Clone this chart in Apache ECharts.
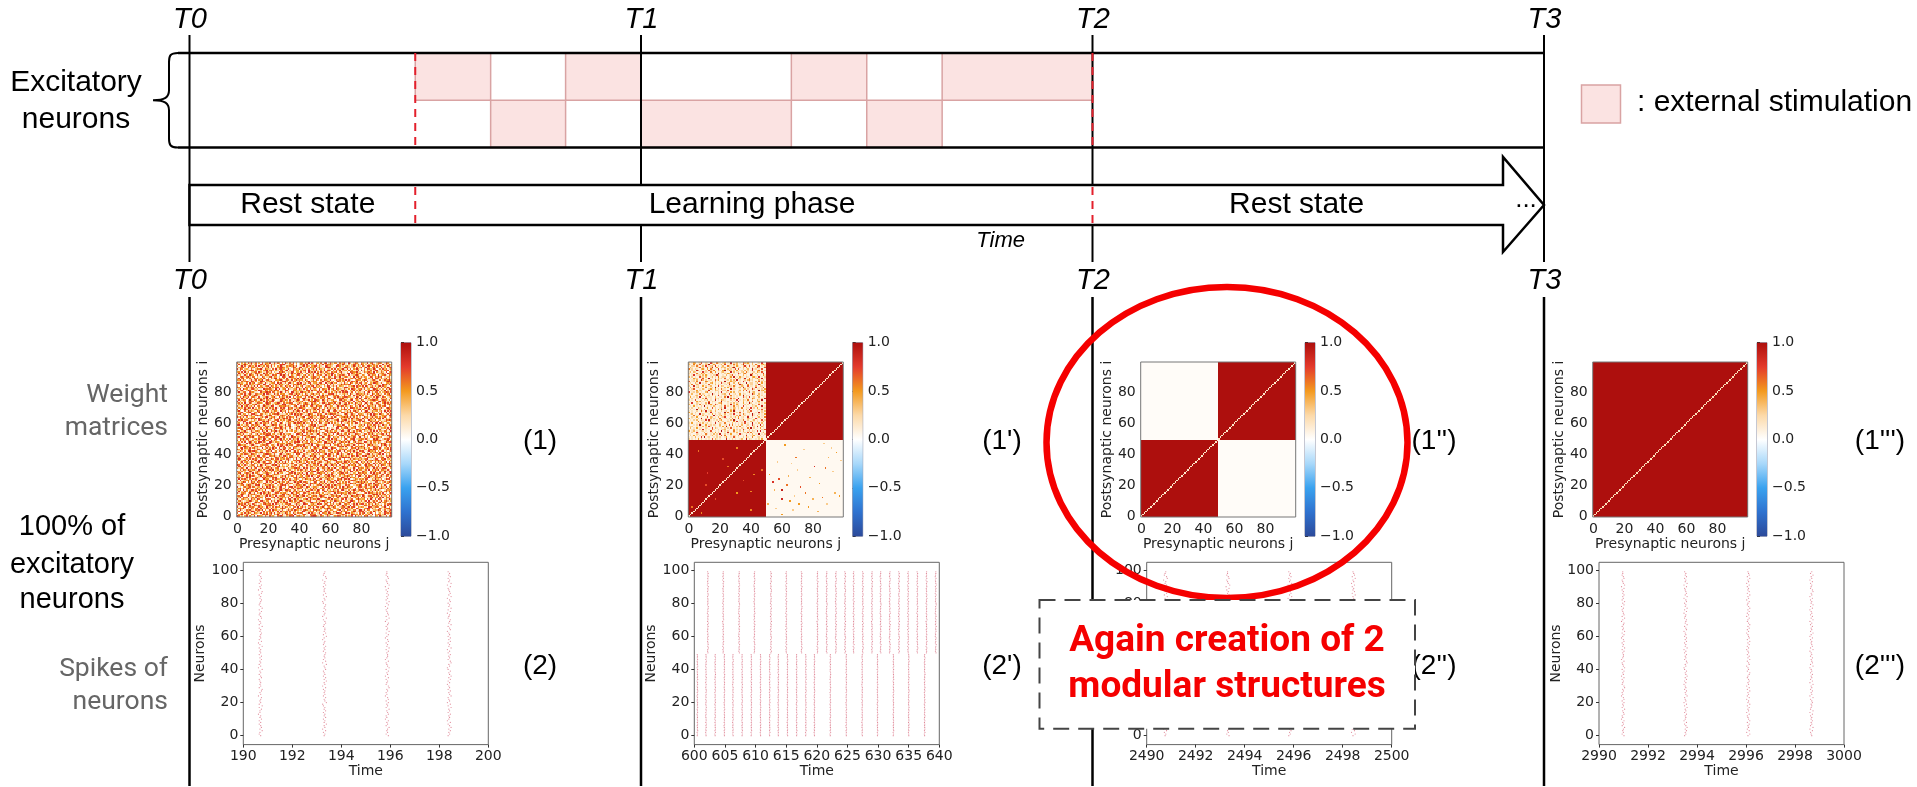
<!DOCTYPE html>
<html><head><meta charset="utf-8">
<style>html,body{margin:0;padding:0;background:#fff}#c{width:1917px;height:787px}</style>
<script src="https://cdn.jsdelivr.net/npm/echarts@6/dist/echarts.min.js"></script>
</head><body><div id="c"></div>
<script>
// ---------- timeline data (time in units of T-intervals, rows: 0 = upper, 1 = lower) ----------
const T_TICKS = [0, 1, 2, 3];
const T_LABELS = ['T0', 'T1', 'T2', 'T3'];
const PHASE_BOUNDARIES = [0.5, 2];
const PHASES = [['Rest state', 0.262], ['Learning phase', 1.246], ['Rest state', 2.452]];
const STIM_UPPER = [[0.5, 0.667], [0.833, 1], [1.333, 1.5], [1.667, 2]];
const STIM_LOWER = [[0.667, 0.833], [1, 1.333], [1.5, 1.667]];
const CMAP = ['#2c4a9a', '#2f72cf', '#3aa2ef', '#a8d8fa', '#ffffff', '#fcd9a8', '#f39a1f', '#e33a2c', '#ad0f0d'];

// ---------- weight matrices: panel (1), digit d is a weight level, first row is neuron 99 ----------
const W1_ROWS = [
"7305162849337150826649128375061942738150366274918305527169038426617358209414862075339168204775139620",
"2814695037146028739551736204889312576040375829164428063915767420185396205148737296041538624610927385",
"6039271584528194360772815063942164759380236917405588263109745301986240573149626307418952637084152963",
"1457830926673501824491620357886254039711790346285560472318996143705228964135072581493606827419350268",
"9286045317204769318543071926855138207464926351704829175360342718064593281706495230618743950162847136",
"3170852469815324067926841530771690428356053781942447306291885062739145507362148092615370489126375804",
"5628193704467095132853704218696124387055281360947390628417530746815922140876593302746851906327418058",
"0943716258328652094716430597821705394628946017253815904372664981052733179085264740319576821245730966",
"7351284096503917428662185703949427063158730581624903647128352916047586208134795116402837560924683175",
"2068537941760420851337926514088513976240419627035874360592176208439135752409168373650286174958032471",
"4816905273195736284050638917426082154739287350416962841065373749026581103574926840261539078526349172",
"6592740138248065913783210657941376280594656194023718507286439102857364928310476505972136842170385694",
"1307468529735129860446928150378950437612813406925765014923871460396258075386491262708143569301247986",
"8745216093680257419313567094822617935048490362781556278109346935702418340961572781462053986327105648",
"3296058174524683197007142839563048126759762851094336925470817261034958658710429193640872135420968371",
"5071483926391906425782850631741953708264058124637917463052981372816540204369185638095147262793854106",
"9613027548716075832429164780355281460397327095461884527031696040752138973246085115836279404718263950",
"2480956137853412096767530928146709324581941836072453081765290581964327316097425682714503986240517398",
"7158304962046297318515849670232984017653653207819466291538040376152894720548163931062785749816390427",
"4923671085632108457968076153941725098364189563724002847169350614937286891370625423805916277150469738",
"0367182594217645390884219370656013782495725084136936470512187892503146360941287564728309516834072691",
"8640295371498530761232751468097461235908037469281550183926744275860319216708354926143078195692403576",
"3172954806763081245951469208375283907146560281749314926753800157394268875423096182065341729731860245",
"6509428137042675183928053741699136045827418962305772316480595028147693340561872940792615348206437119",
"1824760395386129540763495012874750821369602734915088641952733561208947512790364185023468976314875260",
"9251370468705463192816780234956041629375358120476994730561820396514287265418037629817043540792683416",
"4736091285123876405976124598307365870124841596207363052894176648039125708361952470394276118520694837",
"0582647931659240173884051763298912475608230678419554621307895172846039945013728660728159343861270594",
"7319058246280571396443980127656846302791174925068329567048136501394872632850741928016745390472681053",
"2645183970914063825717361920848209571364986530214776184052937364270518150987362440692817573148206965",
"8071496325367542918063284701595138640927205817463692951860374249031758716205348916524730897361042584",
"5930172846421960573881537620944706128359739048261545082631790178625403362817945070398126456047192838",
"1468205793056381249672945183070819475362612746053898370942165435190876294760582313685729401528039174",
"3792650418894107625305168794232360581947485213976020746128359867342106951384207564027391865196403728",
"6015389247237968410549702351686429310758370185926461839570413092785613580476291747216083953024657189",
"9483716025560214738913658209474073856192246901587335127684902718403569693827150401956248376162583047",
"2176043859748395106206927148359582716043815406927160438925377961250834527094386319348172605780916243",
"0859367214163087452394215780636147920583702654391818065273941325790468914063257872601954380451238697",
"7342981056542610793880376194152058469317296473058161395407826604183972438259610719720183645906357214",
"4601728395019538267471824603950327615948863925407126087135492756240813375062981402546739189187403652",
"8925137406736841095202596718433918700264157240368590412368097183465297006041312573908461862730945186",
"1350864927275093418694231507861643920127938602574981379652401460397825824317906525018736490963154207",
"5786024193961427053812037864953810610394705318264606582147930321980546793265801441076952380725463819",
"3049217685480136927555718204691520370283064719285127039584610972835160148620397537941682503682107394",
"7614593028326750841901846937251170460562138704696849351027837405612983259037164860534271918054376129",
"0298476315873152096264309215780320000714560928371536182740946859270314735869240173106857342917056483",
"9563812047104926375878056143927245613089749106357224960387153180493726608132975402861749305347829160",
"2147065983645380217996741820535718294063256894701315087246394621507893492065718336904152878103642975",
"6830294175920167483530682795148403196725308125649872641950384074361528157348602911725068436946012387",
"4175938620356284197147105836926051827449037193265068395214780936821405820679134576384201959420375861",
"8092651734713450892662937401853729063518542708136449271830567315946028164529307882106453797683215904",
"3527180496265098374109842653071360452879918346075220675189343708215964739105826441983270652641039578",
"6740319285408761523997213084566158930724203567918365412097686294058317025463187986024371451739682043",
"1985462037932104675840563192783492671058765812439006853471219016483725587239406132706958343108496275",
"7230896514156947208373068125948025134796380946152771920685343541078692912380574696407132855827139064",
"4069175382683520914726294708137813609542217385960486431859702967204531350176829454923601786293054718",
"9518243670042873156169175034829406287135736409218565179240383820916475702843196312650784976071435829",
"2374061895896315402784902617353591703826041862537939084571266405378129165739240868213956470526814037",
"6802953174217649830553186720491730246958385017462181947563025926481703640815397237904162586194073562",
"0156387429754032168986427105933268514097916734205845270369187350692841279361084650148927324782905163",
"8493120756362980574107659328418940673215057821396492135740686183704952524086197318692435706035217489",
"3725619084106478253970413862595061874392638295041776082915343420716598869152430741308659271546803927",
"5981046372847315609223960781546278305191170463825934851670298795248106012837546463579120388207691453",
"1634782905259086134787125643920439216758842576031096324178605368902417594361208723081569476952840316",
"7048156239613792485025604938173916050382961408527360487213954102865739837254691084629350172746159083",
"4263907518085241367998317052648751386024235790614881962045737426190385560817249316074812935083462697",
"9715284036740619528321486937052036942781574018362563708159423954807126128365904720593674181629750384",
"2890631745392857410676024189355269178403916405278137245680913071642598493016785242187539604816027359",
"6347519028158024936784931670224017355896720938164540812763591639205487761429308576058412937243896105",
"0172863954673195082438590462719843620517386274095116940382756820573419245807193662371906485917642830",
"8536240197204861739501726539843568197402051463827992615708344093518627370982546118642073591065394278",
"3791058642916730245864307192566204783915748129065303896471521752046983682315409747560182936481270359",
"5264917380430586712992048653171379520648260719345856147029383921607458014873692560934218757315806942",
"1408736295862149053767951320484916375082357046819230683154792684025137596240718933170864295049328617",
"7653029481015732869434286910752845106793964825301718904527366172340895381956427020658931476783214095",
"2917584063748320195661073854299360721584105396482770258134963541076928849103752646287015394526039781",
"6081345729236097514849625713082713948560874021365939561280476208394517124587630393170426859654821037",
"4325970618571864302915480269376058213947692785140386037491526873915062718203469585946031287130472596",
"8759103246946052178332714905681483760259306148297575293618044261087354603975812497152680934862405713",
"0246815973318790426558361042797925104386752960381414769253880739546121847103265960382741597516283049",
"9130574682762451830947085326911604892735478219603665301928473852617094296450137883571264908027439165",
"3682417950105938264679240517836317059248860345172948126570391408926375753812906414085672391269540738",
"5470926138847263519001685327942985613704219071468352960841735164270893306149725887236051494831027566",
"1924385067539801674372591468030462817593765428910316840297156795384102683906145276914738205047269381",
"8316750492270649185395013872646730195286401873526948571602343019275864529748630110582967437362814059",
"2059631847684127053946276510398159428670938501762431096375825843710926714632098558401326979271680534",
"6748102935105873426918340925767023615489247916305868259741032674958013381296574409613782505927346180",
"3491867025738246509120569183474638091275854130796225307468199160382547962514738074821369256083917642",
"9205743618462971305787014236951507824936130569284764982013573926541780813470269545607293181874036295",
"1683024597315608942650837195428241960753796324581017346985206419753802542896107362580914737039168425",
"7426159830049571286382415970636790143528603841279556281073949082316475168905237414329761850691574032",
"0957382641863024179567190843252675810394421986035732968157406371549206745038291688250736194513062789",
"5318746092296485013778654209134029567183917230846465130482976805172394612907354102873619546347081926",
"8240691375741385620934071856293851406729058361472917825940362496013578359178206465120983477603492051",
"2675930418506928143762843510697416259037683041925830416275987157340862974361085201569827340284156793",
"6193027584317584906128095634271038472965241796350869573014826520369147085426713993817602454960271358",
"4820516739962740381547361280945572813604019832465706249158373185702946631059724878240361951436097285",
"7036184952185439062706928157343961508427576013928441380765296243897510958264130727915483060351286749",
"1569327408643102785935706493182284670931315872096670248135949721034586403197562816053729184862490317",
"9724058163280965417318452076962153879046743602158996317502841036587241725480936350869142075194327068"];
const W1_PALE_SPOTS = [[60,58],[61,58],[59,59],[60,59],[61,59],[60,60],[58,58],[57,57],[62,60],[45,43],[44,42],[43,41],[42,40],[41,39],[46,44],[30,28],[31,29],[32,30],[33,32],[34,33],[29,27],[50,49],[51,50],[52,51]];

// panel (1'): upper-left block, 50 x 50, first row is neuron 99, column 0 on the left
const W2_UPPER_LEFT = [
"20143012600210731052102401180213010632410300120710",
"31050216010329014200130700120513002801120305100342",
"10220510130701230802013005210204100371060120470102",
"03100126020160280140032300215910120304010201730016",
"51202100341040520107010203120160600201300812010600",
"10210830100206215003104901420204012030201700350102",
"13032001071210510401023100080301202305100120420610",
"20100510423001130109010214300100720351002602000170",
"10170112030410102283001030126010200301009300201041",
"30201006120300130205012200140801041102100341070102",
"01042200160019010103120600210030320180050202410801",
"10120300730201200614000112030308010120351200030120",
"60120501000541020300120900142230010710020103060302",
"12003108010200340201071102500300510109012201300401",
"10501320011006010302100120810020183000402201093001",
"20080120040201300107032001220510013200601103002201",
"03010230100500120910010304010200230810120207010160",
"10260001031002410402051100090210010230200720110204",
"01100402100108010321002206000100130507020100090341",
"70120320100350100102080021040300210100160230010103",
"10300105021001091002012300600120040210010830030100",
"11002300604012030107010220050101030902100100420201",
"04010208000201100300120509020101000612070120030011",
"10200120030710100412001100060320900102100530010208",
"20106000102130100801042100020107010310500200310900",
"01000413010005021100090102001020800301120600240100",
"10700210100308010102350001020302100401092001020103",
"30010205010202410720030101080204100120200310060100",
"01040100209010103100120602010501200701000213000801",
"10200031100140060200130800010320205001107020400112",
"02010901203001100204071001030510100203080100120600",
"10100200510801300300020120040910010300216000100203",
"40102000100310700102100905010202060100230001080210",
"01301008021001040201200300120700020510010910020104",
"10050120030210009010240201010103060120200810300110",
"00210400100060320103012700020130401200800200130105",
"30101020900210302100500120204010601100321007102010",
"01020300210708101020240001030910011500200130100602",
"10100050012003100206012002100407011080003110200130",
"20400102030120100800210500103010102060100901030300",
"10010209100401202100300120605010203001200710108020",
"12200101030206100100204090010103050102010120800310",
"03010401100210070310010202060101002100509020104010",
"10120002080101051002012300100402020710030101000216",
"40130100120100600101090202000501020300120210708010",
"10200710003010120402010108010203000120605010100130",
"11000210100510103020800201040001071002010301090102",
"02040101020200130120060500010210300108001240102010",
"10103010709012001020200140010610100203100500120100",
"20101040200101060310100080102010013009021001020400"];
const W2_LOWER_RIGHT_SPARSE = [[62,46,.5],[69,38,.6],[81,32,.8],[88,31,.6],[54,22,.8],[60,17,.9],[55,17,.4],[65,10,.5],[60,11,.85],[68,13,.3],
[72,19,.7],[78,25,.4],[84,21,.5],[90,38,.4],[95,41,.5],[92,44,.3],[74,43,.3],[57,35,.3],[64,26,.4],[52,27,.5],[70,30,.3],[86,12,.6],[94,15,.4],
[77,6,.5],[83,3,.4],[60,1,.5],[51,8,.4],[56,5,.3],[67,4,.3],[89,8,.3],[97,13,.5],[75,15,.6],[80,11,.4],[71,8,.5],[63,20,.6],[58,24,.7],[93,29,.3],[98,36,.3],[87,47,.3],[66,34,.3]];
const W2_LOWER_LEFT_SPARSE = [[31,44,.55],[6,42,.6],[25,32,.6],[42,27,.55],[31,15,.5],[47,30,.6],[40,16,.55],[11,20,.7],[17,11,.7],[8,2,.55],[40,4,.55],[2,6,.6],[22,37,.7],[35,23,.7],[12,28,.75]];

// ---------- spike rasters: one digit per neuron, spike offset from the burst time ----------
const JITTER = [
"5347465353645244637354562546735454365354725354646354537426354564537354265346375345645367254635465346",
"4536254745364536453275463545362547463543654726354563546345247364553465372453645632547364453645276345",
"6354573546243654735463652435476345362546375436245546374536524637453562473654352647354645362754365344",
"3546475362454635473625437546354253647546325476354635274536463542653745634526374536527465436274536453",
"4726354637543625463745263547362546534673542653746354253647365425364753462536475346254736453625473654",
"5436273546453627345465372546354726354635427365463542736545362473546352746354263745362547634536254735"];
const BURSTS_A = [190.68, 193.3, 195.86, 198.39];
const BURSTS_B_UPPER = [602.2,604.7,607.3,609.8,612.5,615,617.5,620.1,621.6,623.1,624.6,626,627.5,629,630.4,631.9,633.4,634.9,636.4,637.9,639.4];
const BURSTS_B_LOWER = [600.5,601.9,603.4,604.9,606.3,607.8,609.3,610.8,612.3,613.7,615.2,616.7,618.2,619.6,622.2,624.8,627.4,629.9,632.5,635,637.6];
const BURSTS_C = [2490.75, 2493.3, 2495.83, 2498.42];
const BURSTS_D = [2990.97, 2993.52, 2996.08, 2998.66];
const RASTER_Y_TICKS = [0, 20, 40, 60, 80, 100];

// ---------- layout ----------
const HEAT_X = [236.7, 688.3, 1140.7, 1592.7];
const BAR_X = [401, 852.7, 1305, 1757];
const RASTER_X = [243.3, 694.3, 1146.7, 1599];
const RASTER_RANGE = [[190,200,2],[600,640,5],[2490,2500,2],[2990,3000,2]];
const DFONT = '"DejaVu Sans"';
const HFONT = '"Liberation Sans"';
const RFONT = 'Roboto';

// ---------- matrix assembly ----------
function blockMatrix(blocks, diag) {
  const m = [];
  for (let i = 0; i < 100; i++) { m.push(new Array(100).fill(0.02)); }
  blocks.forEach(b => { for (let y = b[2]; y < b[3]; y++) for (let x = b[0]; x < b[1]; x++) m[y][x] = b[4]; });
  if (diag != null) for (let i = 0; i < 100; i++) m[i][i] = diag;
  return m;
}
function toCells(m) { const out = []; m.forEach((r, y) => r.forEach((v, x) => out.push([x, y, v]))); return out; }
const M1 = blockMatrix([]);
W1_ROWS.forEach((row, r) => { for (let x = 0; x < 100; x++) M1[99 - r][x] = (row.charCodeAt(x % row.length) - 48) / 9 * 0.82; });
W1_PALE_SPOTS.forEach(p => { M1[p[1]][p[0]] = 0.06; });
const M2 = blockMatrix([[0,50,0,50,1],[50,100,50,100,1],[50,100,0,50,0.04]], 0.15);
W2_UPPER_LEFT.forEach((row, r) => { for (let x = 0; x < 50; x++) M2[99 - r][x] = (row.charCodeAt(x % row.length) - 48) / 9 * 0.9 + 0.08; });
W2_LOWER_RIGHT_SPARSE.concat(W2_LOWER_LEFT_SPARSE).forEach(p => { M2[p[1]][p[0]] = p[2]; });
const M3 = blockMatrix([[0,50,0,50,1],[50,100,50,100,1]], 0.15);
const M4 = blockMatrix([[0,100,0,100,1]], 0.2);
const MATS = [M1, M2, M3, M4];

function burst(time, jit, first, scale) {
  const pts = [];
  for (let k = 0; k < jit.length && first + k < 100; k++) pts.push([time + (jit.charCodeAt(k) - 52) * scale, first + k]);
  return pts;
}
const RASTERS = [
  BURSTS_A.flatMap((t, i) => burst(t, JITTER[i], 0, 0.03)),
  BURSTS_B_UPPER.flatMap((t, i) => burst(t, JITTER[i % 6].slice(0, 50), 50, 0.03))
    .concat(BURSTS_B_LOWER.flatMap((t, i) => burst(t, JITTER[(i + 3) % 6].slice(50), 0, 0.02))),
  BURSTS_C.flatMap((t, i) => burst(t, JITTER[i + 1], 0, 0.03)),
  BURSTS_D.flatMap((t, i) => burst(t, JITTER[i + 2], 0, 0.025))
];
const IDX = Array.from({ length: 100 }, (_, i) => String(i));

// ---------- option ----------
const grids = [], xAxes = [], yAxes = [], series = [];
const lblStyle = { color: '#222', fontFamily: DFONT, fontSize: 14 };
const nameStyle = { fontFamily: DFONT, fontSize: 14, color: '#222' };
function every20(i) { return i % 20 === 0; }

// timeline grid: index 0
grids.push({ left: 189.5, top: 53, width: 1354.5, height: 94.5 });
xAxes.push({ gridIndex: 0, type: 'value', min: 0, max: 3, show: false });
yAxes.push({ gridIndex: 0, type: 'value', min: 0, max: 2, inverse: true, show: false });

const Y = { t1a: 35, t1b: 262, t2a: 297, t2b: 786, arrowTop: 185, arrowBot: 225, headTop: 157, headBot: 252, arrowMid: 205, lblA: 20, lblB: 281 };
const BLACK = '#000';
function lineShape(x1, y1, x2, y2, style, z2) { return { type: 'line', shape: { x1, y1, x2, y2 }, style, z2: z2 || 0 }; }

// stimulation blocks
const stimData = STIM_UPPER.map(s => [s[0], 0, s[1], 1]).concat(STIM_LOWER.map(s => [s[0], 1, s[1], 2]));
series.push({ type: 'custom', xAxisIndex: 0, yAxisIndex: 0, z: 3, silent: true, data: stimData,
  renderItem(p, api) {
    const a = api.coord([api.value(0), api.value(1)]), b = api.coord([api.value(2), api.value(3)]);
    return { type: 'rect', shape: { x: a[0], y: a[1], width: b[0] - a[0], height: b[1] - a[1] }, style: { fill: '#fbe3e2', stroke: '#d9a3a3', lineWidth: 1.5 } };
  } });
// vertical lines T0..T3 + labels
series.push({ type: 'custom', xAxisIndex: 0, yAxisIndex: 0, z: 4, silent: true, data: T_TICKS.map(t => [t, 0]),
  renderItem(p, api) {
    const i = p.dataIndex, x = api.coord([api.value(0), 0])[0];
    const font = 'italic 29px ' + HFONT;
    const lab = (y) => ({ type: 'text', style: { text: T_LABELS[i], x: x + 0.5, y, font, fill: BLACK, align: 'center', verticalAlign: 'middle', textAlign: 'center', textVerticalAlign: 'middle' } });
    return { type: 'group', children: [
      lineShape(x, Y.t1a, x, Y.t1b, { stroke: BLACK, lineWidth: 2 }),
      lineShape(x, Y.t2a, x, Y.t2b, { stroke: BLACK, lineWidth: 2.5 }),
      lab(Y.lblA), lab(Y.lblB)] };
  } });
// row borders + brace
series.push({ type: 'custom', xAxisIndex: 0, yAxisIndex: 0, z: 5, silent: true, data: [[0, 0]],
  renderItem(p, api) {
    const top = api.coord([0, 0]), bot = api.coord([3, 2]);
    const st = { stroke: '#000', lineWidth: 2.5, fill: 'none' };
    const L = top[0] - 11.5, yT = top[1], yB = bot[1], yM = (yT + yB) / 2;
    const path = `M${L} ${yT}C${L-8} ${yT} ${L-9} ${yT+3} ${L-9} ${yT+9}L${L-9} ${yM-10}C${L-9} ${yM-3} ${L-13} ${yM} ${L-25} ${yM}C${L-13} ${yM} ${L-9} ${yM+3} ${L-9} ${yM+10}L${L-9} ${yB-9}C${L-9} ${yB-3} ${L-8} ${yB} ${L} ${yB}`;
    return { type: 'group', children: [
      lineShape(L, yT, bot[0], yT, st), lineShape(L, yB, bot[0], yB, st),
      { type: 'path', shape: { pathData: path }, style: { stroke: '#000', lineWidth: 2, fill: 'none' } }] };
  } });
// arrow
series.push({ type: 'custom', xAxisIndex: 0, yAxisIndex: 0, z: 6, silent: true, data: [[0, 3]],
  renderItem(p, api) {
    const a = api.coord([api.value(0), 0])[0], b = api.coord([api.value(1), 0])[0], n = b - 41;
    return { type: 'polygon', shape: { points: [[a, Y.arrowTop], [n, Y.arrowTop], [n, Y.headTop], [b, Y.arrowMid], [n, Y.headBot], [n, Y.arrowBot], [a, Y.arrowBot]] },
      style: { fill: '#fff', stroke: '#000', lineWidth: 2.5 } };
  } });
// red phase boundaries
series.push({ type: 'custom', xAxisIndex: 0, yAxisIndex: 0, z: 7, silent: true, data: PHASE_BOUNDARIES.map(t => [t, 0]),
  renderItem(p, api) {
    const x = api.coord([api.value(0), 0])[0], yT = api.coord([0, 0])[1], yB = api.coord([0, 2])[1];
    const st = { stroke: '#e3202c', lineWidth: 2, lineDash: [8, 6] };
    return { type: 'group', children: [lineShape(x, yT, x, yB, st), lineShape(x, Y.arrowTop + 2, x, Y.arrowBot - 2, st)] };
  } });
// phase names
series.push({ type: 'custom', xAxisIndex: 0, yAxisIndex: 0, z: 8, silent: true, data: PHASES.map(p => [p[1], 0]),
  renderItem(p, api) {
    const x = api.coord([api.value(0), 0])[0];
    return { type: 'text', style: { text: PHASES[p.dataIndex][0], x, y: Y.arrowMid, font: '30px ' + HFONT, fill: '#000', align: 'center', verticalAlign: 'middle', textAlign: 'center', textVerticalAlign: 'middle' } };
  } });

// heatmaps: every cell is placed on the category bands and snapped to whole pixels, coloured by the visual map
const heatSeriesIdx = [];
MATS.forEach((m, i) => {
  const g = grids.length;
  grids.push({ left: HEAT_X[i], top: 362, width: 155, height: 155, show: true, borderColor: '#777', borderWidth: 1, z: 3 });
  xAxes.push({ gridIndex: g, type: 'category', data: IDX, position: 'bottom', name: 'Presynaptic neurons j', nameLocation: 'middle', nameGap: 20,
    nameTextStyle: nameStyle,
    axisLine: { show: false }, axisTick: { alignWithLabel: true, interval: every20, length: 3, lineStyle: { color: '#333' } },
    axisLabel: { interval: every20, margin: 5, ...lblStyle }, splitLine: { show: false } });
  yAxes.push({ gridIndex: g, type: 'category', data: IDX, position: 'left', name: 'Postsynaptic neurons i', nameLocation: 'middle', nameGap: 26,
    nameTextStyle: nameStyle,
    axisLine: { show: false }, axisTick: { alignWithLabel: true, interval: every20, length: 3, lineStyle: { color: '#333' } },
    axisLabel: { interval: every20, margin: 5, ...lblStyle }, splitLine: { show: false } });
  heatSeriesIdx.push(series.length);
  series.push({ type: 'custom', xAxisIndex: g, yAxisIndex: g, data: toCells(m), progressive: 0, silent: true, z: 2, encode: { x: 0, y: 1 },
    renderItem(p, api) {
      const s = api.size([1, 1]), o = api.coord([0, 0]);
      const ix = api.value(0), iy = api.value(1);
      const left = o[0] - s[0] / 2, bottom = o[1] + s[1] / 2;
      const x0 = Math.round(left + ix * s[0]), x1 = Math.round(left + (ix + 1) * s[0]);
      const y1 = Math.round(bottom - iy * s[1]), y0 = Math.round(bottom - (iy + 1) * s[1]);
      return { type: 'rect', shape: { x: x0, y: y0, width: x1 - x0, height: y1 - y0 }, style: { fill: api.visual('color') } };
    } });
});
// colorbars
BAR_X.forEach(x => {
  const g = grids.length;
  grids.push({ left: x, top: 342.7, width: 10, height: 193.5, show: true, borderColor: '#8a8fa5', borderWidth: 1 });
  xAxes.push({ gridIndex: g, type: 'value', min: 0, max: 1, show: false });
  yAxes.push({ gridIndex: g, type: 'value', min: -1, max: 1, interval: 0.5, position: 'right', axisLine: { show: false },
    axisTick: { show: true, length: 3, lineStyle: { color: '#333' } }, splitLine: { show: false },
    axisLabel: { margin: 5, formatter: v => v.toFixed(1).replace('-', '\u2212'), ...lblStyle } });
  series.push({ type: 'custom', xAxisIndex: g, yAxisIndex: g, silent: true, data: [[0, -1, 1, 1]],
    renderItem(p, api) {
      const a = api.coord([api.value(0), api.value(3)]), b = api.coord([api.value(2), api.value(1)]);
      const stops = CMAP.map((c, k) => ({ offset: 1 - k / (CMAP.length - 1), color: c })).reverse();
      return { type: 'rect', shape: { x: a[0], y: a[1], width: b[0] - a[0], height: b[1] - a[1] }, style: { fill: new echarts.graphic.LinearGradient(0, 0, 0, 1, stops) } };
    } });
});
// rasters
RASTERS.forEach((pts, i) => {
  const g = grids.length, r = RASTER_RANGE[i];
  grids.push({ left: RASTER_X[i], top: 562.3, width: 245, height: 182.3, show: true, borderColor: '#666', borderWidth: 1 });
  xAxes.push({ gridIndex: g, type: 'value', min: r[0], max: r[1], interval: r[2], name: 'Time', nameLocation: 'middle', nameGap: 20,
    nameTextStyle: nameStyle,
    axisLine: { show: false, onZero: false }, axisTick: { show: true, length: 3, lineStyle: { color: '#333' } }, splitLine: { show: false },
    axisLabel: { margin: 5, hideOverlap: false, showMinLabel: true, showMaxLabel: true, formatter: v => String(v), ...lblStyle } });
  yAxes.push({ gridIndex: g, type: 'value', min: -5.4, max: 104.7, name: 'Neurons', nameLocation: 'middle', nameGap: 33,
    nameTextStyle: nameStyle,
    axisLine: { show: false, onZero: false }, splitLine: { show: false },
    axisTick: { show: true, length: 3, customValues: RASTER_Y_TICKS, lineStyle: { color: '#333' } },
    axisLabel: { margin: 5, customValues: RASTER_Y_TICKS, ...lblStyle } });
  series.push({ type: 'scatter', xAxisIndex: g, yAxisIndex: g, data: pts, symbol: 'circle', symbolSize: 1.2, silent: true, large: false, progressive: 0,
    itemStyle: { color: 'rgba(195,30,60,0.65)' } });
});

function txt(text, x, y, size, opt) {
  opt = opt || {};
  return { type: 'text', z: opt.z || 20, style: { text, x, y, font: (opt.style ? opt.style + ' ' : '') + size + 'px ' + (opt.family || HFONT), fill: opt.fill || '#000',
    align: opt.align || 'center', verticalAlign: 'middle', textAlign: opt.align || 'center', textVerticalAlign: 'middle' } };
}
const graphics = [
  txt('Excitatory', 76, 83, 30), txt('neurons', 76, 120, 30),
  txt('...', 1526, 200, 26),
  txt('Time', 1000.6, 241, 22, { style: 'italic' }),
  { type: 'rect', z: 20, shape: { x: 1581.5, y: 85, width: 39, height: 38 }, style: { fill: '#fbe3e2', stroke: '#d9a3a3', lineWidth: 1.5 } },
  txt(': external stimulation', 1637, 103, 30, { align: 'left' }),
  txt('Weight', 168, 395, 26.5, { align: 'right', family: RFONT, fill: '#666' }),
  txt('matrices', 168, 428, 26.5, { align: 'right', family: RFONT, fill: '#666' }),
  txt('Spikes of', 168, 669, 26.5, { align: 'right', family: RFONT, fill: '#666' }),
  txt('neurons', 168, 702, 26.5, { align: 'right', family: RFONT, fill: '#666' }),
  txt('100% of', 72, 527, 29), txt('excitatory', 72, 565, 29), txt('neurons', 72, 600, 29),
  txt('(1)', 540, 441, 28), txt('(2)', 540, 666, 28),
  txt("(1')", 1002, 441, 28), txt("(2')", 1002, 666, 28),
  txt("(1'')", 1434, 441, 28), txt("(2'')", 1434, 666, 28),
  txt("(1''')", 1880, 441, 28), txt("(2''')", 1880, 666, 28),
  { type: 'ellipse', z: 50, shape: { cx: 1227, cy: 442.5, rx: 180.5, ry: 155.5 }, style: { fill: 'transparent', stroke: '#f50000', lineWidth: 6.5 } },
  { type: 'rect', z: 60, shape: { x: 1039.5, y: 600, width: 375.5, height: 128.7 }, style: { fill: '#fff', stroke: '#444', lineWidth: 2, lineDash: [16, 9] } },
  txt('Again creation of 2', 1227, 642, 37, { family: RFONT, style: 'bold', fill: '#f50000', z: 61 }),
  txt('modular structures', 1227, 688, 37, { family: RFONT, style: 'bold', fill: '#f50000', z: 61 })
];

const chart = echarts.init(document.getElementById('c'), null, { renderer: 'canvas', width: 1917, height: 787 });
chart.setOption({
  animation: false, backgroundColor: '#fff',
  grid: grids, xAxis: xAxes, yAxis: yAxes, series,
  visualMap: { show: false, type: 'continuous', min: -1, max: 1, dimension: 2, seriesIndex: heatSeriesIdx, inRange: { color: CMAP } },
  graphic: graphics
});
</script></body></html>
